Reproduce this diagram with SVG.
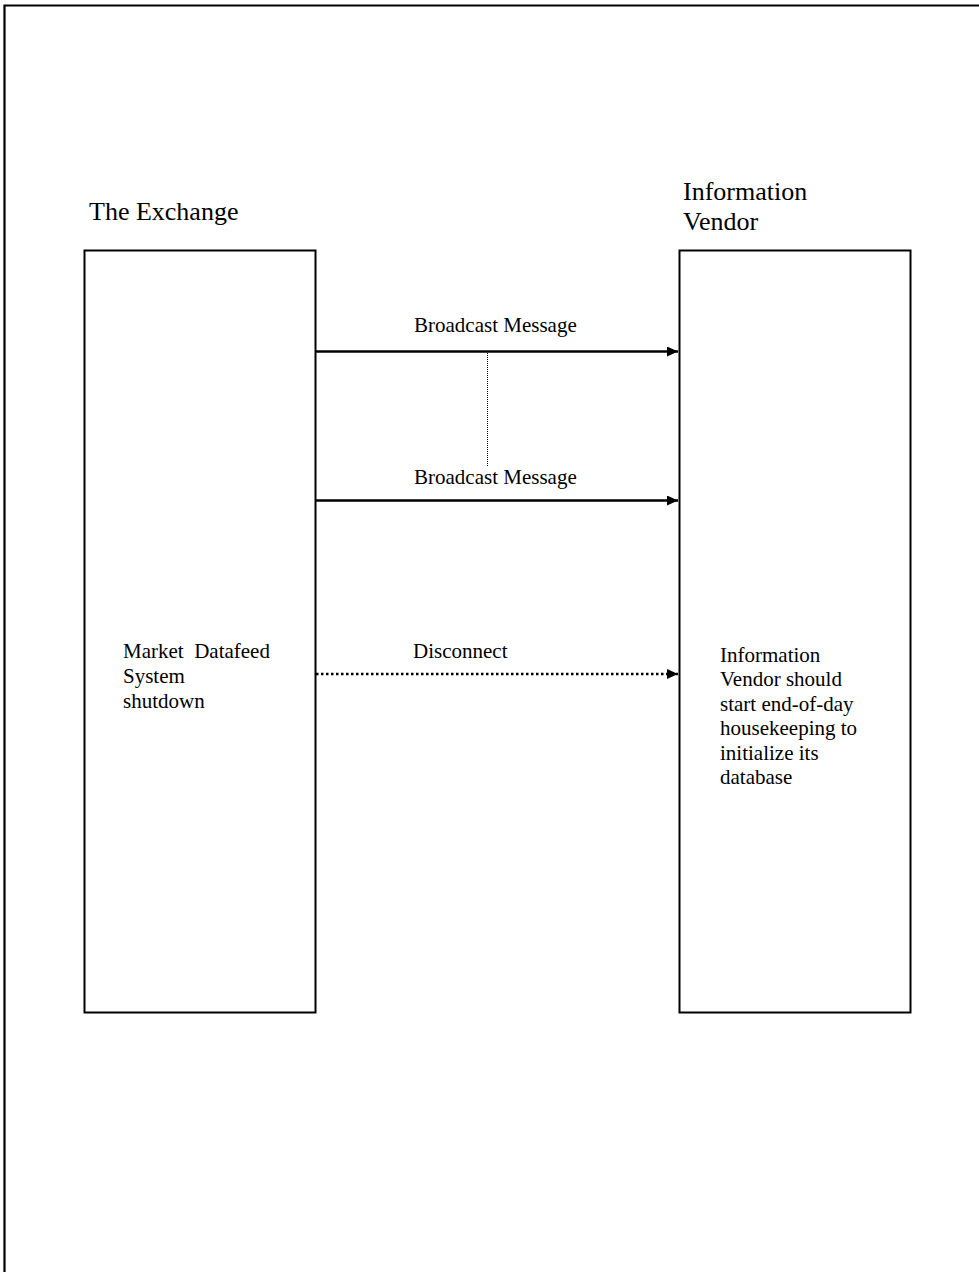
<svg xmlns="http://www.w3.org/2000/svg" width="979" height="1272" viewBox="0 0 979 1272">
<style>
.t{font-family:"Liberation Serif","Times New Roman",serif;fill:#000}
.title{font-size:26px}
.body{font-size:21px}
.box{fill:#fff;stroke:#000;stroke-width:2}
.solid{stroke:#000;stroke-width:2.5;fill:none}
.dots{stroke:#000;stroke-width:2.5;stroke-dasharray:2.5 2.5;fill:none}
.thin{stroke:#000;stroke-width:1;stroke-dasharray:1 1;fill:none}
</style>
<defs>
<marker id="ah" viewBox="0 0 11 10" refX="11" refY="5" markerWidth="11" markerHeight="10" markerUnits="userSpaceOnUse" orient="auto">
<path d="M0,0 L11,5 L0,10 z" fill="#000"/>
</marker>
</defs>
<g id="frame">
<path d="M4.5,1272 L4.5,5.5 L979,5.5" fill="none" stroke="#000" stroke-width="2.2"/>
</g>
<g id="exchange">
<text class="t title" x="89" y="220">The Exchange</text>
<rect class="box" x="84.5" y="250.5" width="231" height="762"/>
<text class="t body" x="123" y="658" xml:space="preserve">Market  Datafeed</text>
<text class="t body" x="123" y="683">System</text>
<text class="t body" x="123" y="708">shutdown</text>
</g>
<g id="vendor">
<text class="t title" x="683" y="200">Information</text>
<text class="t title" x="683" y="230">Vendor</text>
<rect class="box" x="679.5" y="250.5" width="231" height="762"/>
<text class="t body" x="720" y="662">Information</text>
<text class="t body" x="720" y="686">Vendor should</text>
<text class="t body" x="720" y="711">start end-of-day</text>
<text class="t body" x="720" y="735">housekeeping to</text>
<text class="t body" x="720" y="760">initialize its</text>
<text class="t body" x="720" y="784">database</text>
</g>
<g id="connectors">
<line class="solid" x1="316" y1="351.5" x2="678" y2="351.5" marker-end="url(#ah)"/>
<text class="t body" x="414" y="332">Broadcast Message</text>
<line class="thin" x1="487.5" y1="353" x2="487.5" y2="466"/>
<line class="solid" x1="316" y1="500.5" x2="678" y2="500.5" marker-end="url(#ah)"/>
<text class="t body" x="414" y="484">Broadcast Message</text>
<line class="dots" x1="316" y1="674" x2="678" y2="674" marker-end="url(#ah)"/>
<text class="t body" x="413" y="658">Disconnect</text>
</g>
</svg>
